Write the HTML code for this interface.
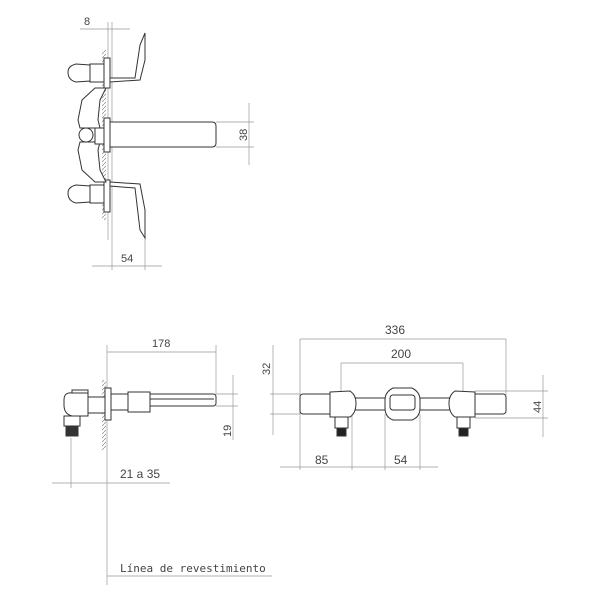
<!DOCTYPE html>
<html><head><meta charset="utf-8"><style>html,body{margin:0;padding:0;background:#fff}svg{display:block}</style></head>
<body>
<svg width="600" height="600" viewBox="0 0 600 600" xmlns="http://www.w3.org/2000/svg" font-family="Liberation Sans, DejaVu Sans, sans-serif" fill="none" stroke="#333" stroke-width="1">
<defs>
<pattern id="h" width="4" height="4" patternUnits="userSpaceOnUse"><path d="M0 4 L4 0" stroke="#888" stroke-width="0.7"/></pattern>
</defs>
<!-- TOP VIEW -->
<g stroke="#999" stroke-width="0.7">
<line x1="80" y1="29" x2="130" y2="29"/>
<line x1="108" y1="22" x2="108" y2="240"/>
<line x1="112" y1="22" x2="112" y2="270"/>
<line x1="92" y1="266" x2="162" y2="266"/>
<line x1="145" y1="238" x2="145" y2="270"/>
<line x1="249" y1="103" x2="249" y2="165"/>
<line x1="216" y1="122" x2="254" y2="122"/>
<line x1="216" y1="147" x2="254" y2="147"/>
</g>
<rect x="102" y="50" width="4" height="170" fill="url(#h)" stroke="none"/>
<g fill="#444" stroke="none" font-size="11">
<text x="84" y="25">8</text>
<text x="121" y="262">54</text>
<text transform="translate(247,141) rotate(-90)">38</text>
</g>
<g fill="#fff">
<path d="M110 78 L135 78 L140 45 L145 33 L145 60 L140 80 L110 82 Z"/>
<rect x="104" y="58" width="6" height="30"/>
<rect x="90" y="64" width="14" height="18"/>
<path d="M90 65 L76 64 Q68 66 68 72 Q68 80 76 82 L90 81 Z"/>
<path d="M95 88 L82 100 L78 120 L80 128 L100 128 L98 120 L100 100 L106 88 Z"/>
<path d="M110 182 L140 184 L145 210 L145 238 L140 230 L135 188 L110 186 Z"/>
<rect x="104" y="180" width="6" height="32"/>
<rect x="90" y="185" width="14" height="18"/>
<path d="M90 186 L76 185 Q68 187 68 193 Q68 201 76 203 L90 202 Z"/>
<path d="M80 142 L78 150 L82 170 L95 182 L106 182 L100 170 L98 150 L100 142 Z"/>
<rect x="95" y="128" width="10" height="16"/>
<rect x="104" y="118" width="6" height="34"/>
<path d="M110 122 L212 122 Q216 122 216 126 L216 143 Q216 147 212 147 L110 147 Z"/>
<circle cx="86" cy="135" r="7"/>
</g>
<!-- SIDE VIEW -->
<g stroke="#999" stroke-width="0.7">
<line x1="107" y1="352" x2="216" y2="352"/>
<line x1="107" y1="345" x2="107" y2="585"/>
<line x1="216" y1="345" x2="216" y2="394"/>
<line x1="233" y1="375" x2="233" y2="440"/>
<line x1="216" y1="394" x2="238" y2="394"/>
<line x1="216" y1="406" x2="238" y2="406"/>
<line x1="52" y1="483" x2="170" y2="483"/>
<line x1="71" y1="438" x2="71" y2="488"/>
<line x1="107" y1="576" x2="272" y2="576"/>
</g>
<rect x="102" y="380" width="4" height="70" fill="url(#h)" stroke="none"/>
<g fill="#444" stroke="none" font-size="11">
<text x="152" y="347">178</text>
<text transform="translate(231,437) rotate(-90)">19</text>
<text x="120" y="478" font-size="12">21 a 35</text>
<text x="120" y="572" font-family="DejaVu Sans Mono, Liberation Mono, monospace" font-size="11">Línea de revestimiento</text>
</g>
<g fill="#fff">
<rect x="72" y="390" width="16" height="14"/>
<path d="M64 400 Q64 392 72 393 L88 393 L88 416 L72 416 Q64 414 64 405 Z"/>
<rect x="64" y="416" width="16" height="10"/>
<rect x="66" y="426" width="12" height="10" fill="#333"/>
<rect x="88" y="397" width="18" height="16"/>
<rect x="105" y="388" width="6" height="32"/>
<rect x="111" y="394" width="36" height="16"/>
<rect x="128" y="392" width="22" height="20"/>
<path d="M150 394 L213 394 Q216 394 216 397 L216 403 Q216 406 213 406 L150 406 Z"/>
<line x1="150" y1="399" x2="214" y2="399"/>
</g>
<!-- FRONT VIEW -->
<g stroke="#999" stroke-width="0.7">
<line x1="300" y1="339" x2="506" y2="339"/>
<line x1="341" y1="363" x2="463" y2="363"/>
<line x1="300" y1="339" x2="300" y2="470"/>
<line x1="506" y1="339" x2="506" y2="395"/>
<line x1="341" y1="363" x2="341" y2="392"/>
<line x1="463" y1="363" x2="463" y2="392"/>
<line x1="273" y1="345" x2="273" y2="435"/>
<line x1="270" y1="394" x2="300" y2="394"/>
<line x1="270" y1="414" x2="300" y2="414"/>
<line x1="543" y1="375" x2="543" y2="437"/>
<line x1="475" y1="391" x2="548" y2="391"/>
<line x1="475" y1="418" x2="548" y2="418"/>
<line x1="280" y1="467" x2="438" y2="467"/>
<line x1="352" y1="414" x2="352" y2="470"/>
<line x1="385" y1="414" x2="385" y2="470"/>
<line x1="420" y1="414" x2="420" y2="470"/>
</g>
<g fill="#444" stroke="none" font-size="12">
<text x="385" y="334">336</text>
<text x="391" y="358">200</text>
<text x="315" y="464">85</text>
<text x="394" y="464">54</text>
<text transform="translate(270,375) rotate(-90)" font-size="11">32</text>
<text transform="translate(541,413) rotate(-90)" font-size="11">44</text>
</g>
<g fill="#fff">
<rect x="355" y="398" width="30" height="12"/>
<rect x="420" y="398" width="30" height="12"/>
<rect x="300" y="394" width="50" height="20" rx="3"/>
<path d="M330 392 L350 391 Q356 395 356 403 Q356 413 350 417 L330 417 Z"/>
<rect x="335" y="417" width="13" height="11"/>
<rect x="337" y="428" width="9" height="8" fill="#222"/>
<rect x="455" y="394" width="51" height="20" rx="3"/>
<path d="M475 392 L455 391 Q449 395 449 403 Q449 413 455 417 L475 417 Z"/>
<rect x="457" y="417" width="13" height="11"/>
<rect x="459" y="428" width="9" height="8" fill="#222"/>
<path d="M393 388 L412 388 Q420 392 420 400 L420 408 Q420 417 412 420 L393 420 Q385 417 385 408 L385 400 Q385 392 393 388 Z"/>
<rect x="390" y="395" width="25" height="15" rx="3"/>
</g>
</svg>
</body></html>
